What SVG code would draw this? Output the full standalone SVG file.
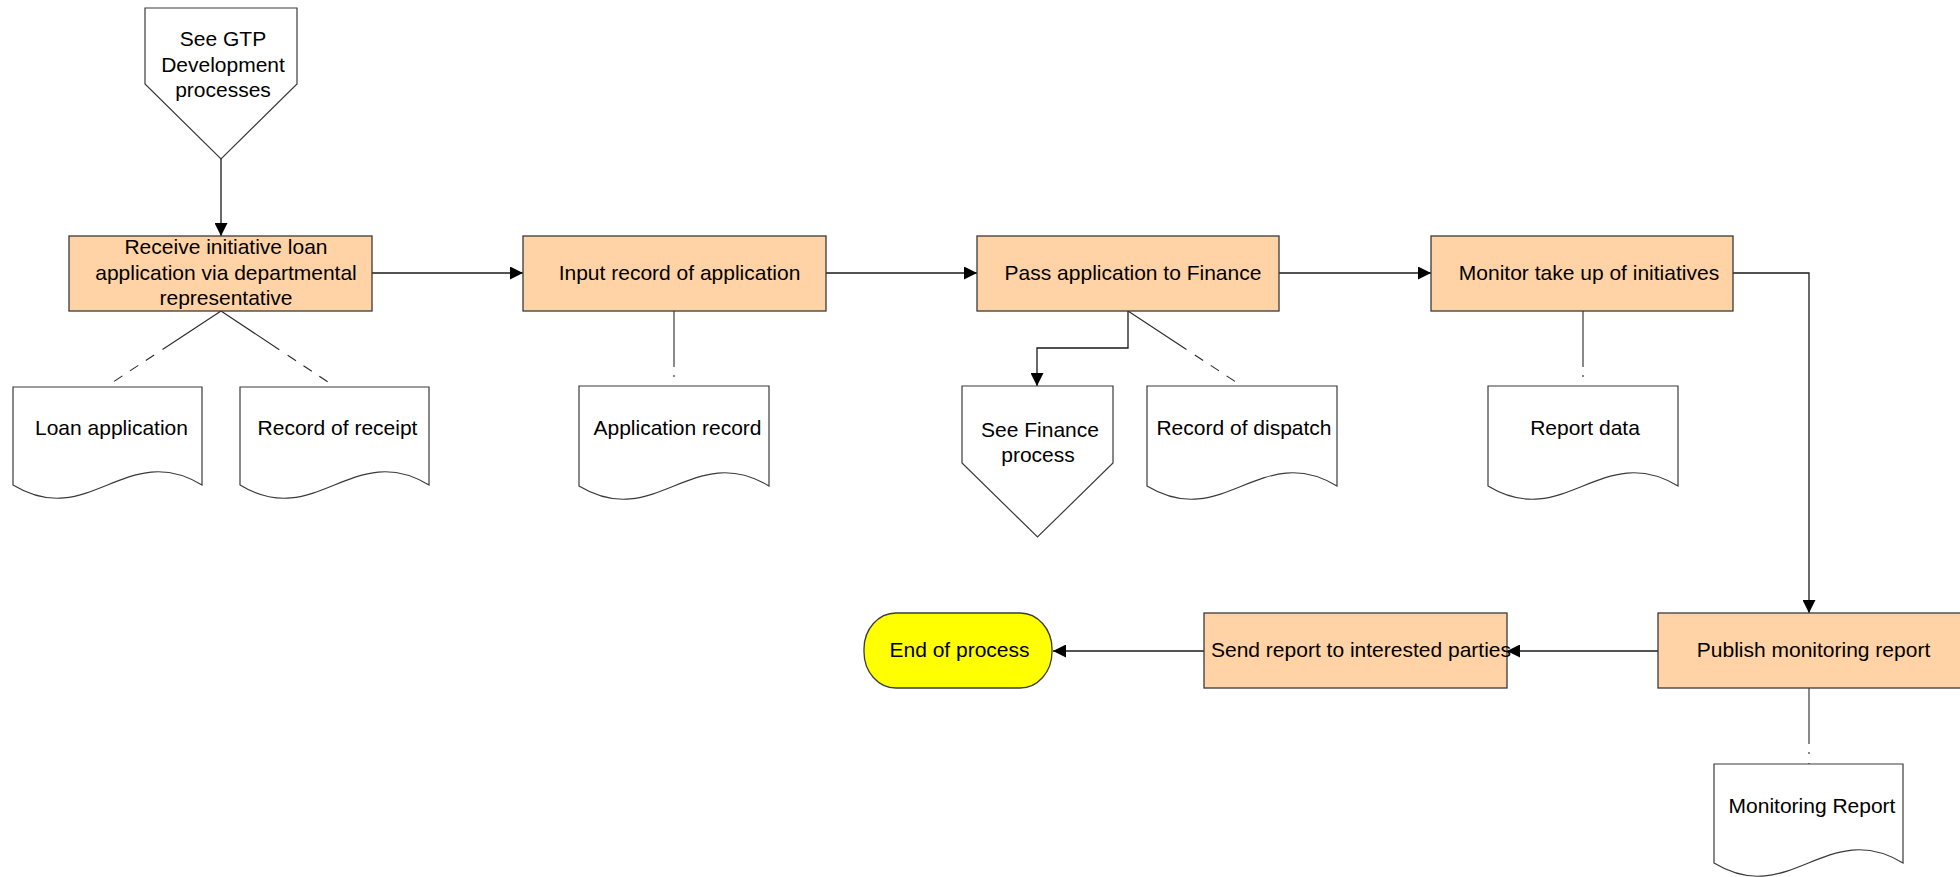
<svg xmlns="http://www.w3.org/2000/svg" width="1960" height="877" viewBox="0 0 1960 877">
<defs>
<style>
text{font-family:"Liberation Sans",Arial,sans-serif;font-size:21px;fill:#000;text-anchor:middle}
.proc{fill:#FFD3A5;stroke:#3a3a3a;stroke-width:1.3}
.term{fill:#FFFF00;stroke:#3a3a3a;stroke-width:1.3}
.doc,.off{fill:#fff;stroke:#3a3a3a;stroke-width:1.2}
.flow{fill:none;stroke:#1a1a1a;stroke-width:1.3}
.data{fill:none;stroke:#2a2a2a;stroke-width:1.1}
.dd{stroke-dasharray:70 10 10 9 10 9 10 9 20}
.dv{stroke-dasharray:56 8 2 9}
</style>
<marker id="arr" viewBox="0 0 13 13" refX="13" refY="6.5" markerWidth="13" markerHeight="13" markerUnits="userSpaceOnUse" orient="auto">
<path d="M0,0 L13,6.5 L0,13 z" fill="#000"/>
</marker>
</defs>
<rect width="1960" height="877" fill="#fff"/>

<g id="connectors">
<path class="flow" d="M221,159 V236" marker-end="url(#arr)"/>
<path class="flow" d="M372,273 H523" marker-end="url(#arr)"/>
<path class="flow" d="M826,273 H977" marker-end="url(#arr)"/>
<path class="flow" d="M1279,273 H1431" marker-end="url(#arr)"/>
<path class="flow" d="M1733,273 H1809 V613" marker-end="url(#arr)"/>
<path class="flow" d="M1658,651 H1507" marker-end="url(#arr)"/>
<path class="flow" d="M1204,651 H1053" marker-end="url(#arr)"/>
<path class="flow" d="M1128,311 V348 H1037 V386" marker-end="url(#arr)"/>
<path class="data dd" d="M221,311 L107,386"/>
<path class="data dd" d="M221,311 L334,386"/>
<path class="data dv" d="M674,311 V386"/>
<path class="data dd" d="M1128,311 L1242,386"/>
<path class="data dv" d="M1583,311 V386"/>
<path class="data dv" d="M1809,688 V764"/>
</g>

<g id="gtp">
<path class="off" d="M145,8 H297 V84 L221,159 L145,84 Z"/>
<text x="223" y="46">See GTP</text>
<text x="223" y="72">Development</text>
<text x="223" y="97">processes</text>
</g>

<g id="receive">
<rect class="proc" x="69" y="236" width="303" height="75"/>
<text x="226" y="254">Receive initiative loan</text>
<text x="226" y="280">application via departmental</text>
<text x="226" y="305">representative</text>
</g>

<g id="input">
<rect class="proc" x="523" y="236" width="303" height="75"/>
<text x="679.5" y="280">Input record of application</text>
</g>

<g id="pass">
<rect class="proc" x="977" y="236" width="302" height="75"/>
<text x="1133" y="280">Pass application to Finance</text>
</g>

<g id="monitor">
<rect class="proc" x="1431" y="236" width="302" height="75"/>
<text x="1589" y="280">Monitor take up of initiatives</text>
</g>

<g id="publish">
<rect class="proc" x="1658" y="613" width="303" height="75"/>
<text x="1813.5" y="657">Publish monitoring report</text>
</g>

<g id="send">
<rect class="proc" x="1204" y="613" width="303" height="75"/>
<text x="1361" y="657">Send report to interested parties</text>
</g>

<g id="end">
<rect class="term" x="864" y="613" width="188" height="75" rx="32" ry="36"/>
<text x="959.5" y="657">End of process</text>
</g>

<g id="loan-application">
<path class="doc" d="M13,387 H202 V485 C126.4,439 88.6,531 13,485 Z"/>
<text x="111.5" y="435">Loan application</text>
</g>

<g id="record-of-receipt">
<path class="doc" d="M240,387 H429 V485 C353.4,439 315.6,531 240,485 Z"/>
<text x="337.5" y="435">Record of receipt</text>
</g>

<g id="application-record">
<path class="doc" d="M579,386 H769 V486 C693,440 655,532 579,486 Z"/>
<text x="677.5" y="435">Application record</text>
</g>

<g id="see-finance">
<path class="off" d="M962,386 H1113 V463 L1037.5,537 L962,463 Z"/>
<text x="1040" y="437">See Finance</text>
<text x="1038" y="462">process</text>
</g>

<g id="record-of-dispatch">
<path class="doc" d="M1147,386 H1337 V486 C1261,440 1223,532 1147,486 Z"/>
<text x="1244" y="435">Record of dispatch</text>
</g>

<g id="report-data">
<path class="doc" d="M1488,386 H1678 V486 C1602,440 1564,532 1488,486 Z"/>
<text x="1585" y="435">Report data</text>
</g>

<g id="monitoring-report">
<path class="doc" d="M1714,764 H1903 V863 C1827.4,817 1789.6,909 1714,863 Z"/>
<text x="1812" y="813">Monitoring Report</text>
</g>
</svg>
